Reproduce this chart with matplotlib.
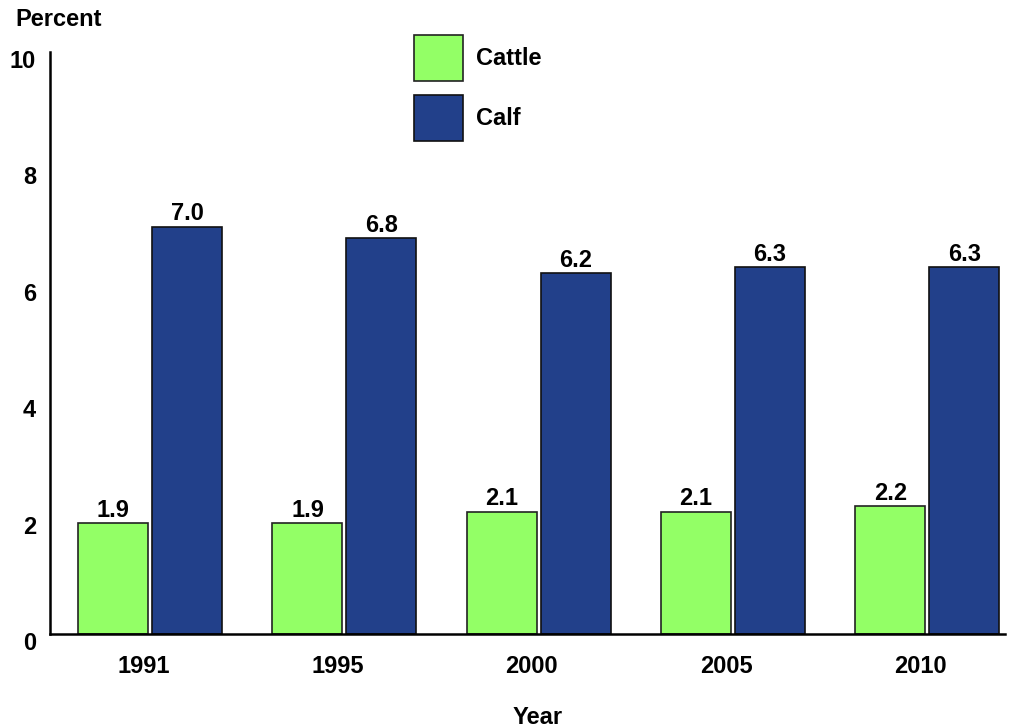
import numpy as np
import matplotlib.pyplot as plt
import matplotlib.transforms as mtransforms

# Donnees
years = ['1991', '1995', '2000', '2005', '2010']
cattle = [1.9, 1.9, 2.1, 2.1, 2.2]
calf = [7.0, 6.8, 6.2, 6.3, 6.3]

plt.rcParams['font.family'] = ['Liberation Sans', 'DejaVu Sans']
plt.rcParams['font.weight'] = 'bold'

fig = plt.figure(figsize=(10.1, 7.28), dpi=100)
ax = fig.add_axes([50/1010, 1-634/728, 955/1010, 582/728])

x = np.arange(len(years))
w = 0.36
b1 = ax.bar(x - 0.19, cattle, w, color='#93FF66', edgecolor='#222222', linewidth=1.2, label='Cattle')
b2 = ax.bar(x + 0.19, calf, w, color='#22408A', edgecolor='#111111', linewidth=1.2, label='Calf')
ax.bar_label(b1, labels=['%.1f' % v for v in cattle], padding=1, fontsize=17, fontweight='bold')
ax.bar_label(b2, labels=['%.1f' % v for v in calf], padding=1, fontsize=17, fontweight='bold')

ax.set_xlim(-0.515, 4.40)
ax.set_ylim(0, 10)
ax.set_yticks([0, 2, 4, 6, 8, 10])
ax.set_xticks(x - 0.035)
ax.set_xticklabels(years, fontweight='bold')
ax.tick_params(axis='both', length=0, labelsize=17)
ax.tick_params(axis='y', pad=10)
ax.tick_params(axis='x', pad=15)
off = mtransforms.ScaledTranslation(0, -0.07, fig.dpi_scale_trans)
for lab in ax.get_yticklabels():
    lab.set_fontweight('bold')
    lab.set_transform(lab.get_transform() + off)
for s in ['top', 'right']:
    ax.spines[s].set_visible(False)
for s in ['left', 'bottom']:
    ax.spines[s].set_linewidth(1.8)

ax.legend(loc='upper left', bbox_to_anchor=(414/1010, 1-35/728), bbox_transform=fig.transFigure,
          frameon=False, borderpad=0, borderaxespad=0, handlelength=2.07,
          handleheight=2.65, labelspacing=0.56, handletextpad=0.56, prop={'weight': 'bold', 'size': 17})

fig.text(15/1010, 1-8/728, 'Percent', fontsize=17, fontweight='bold', va='top', ha='left')
fig.text(538/1010, 1-717/728, 'Year', fontsize=17, fontweight='bold', va='center', ha='center')

fig.savefig('out.png', dpi=100)
